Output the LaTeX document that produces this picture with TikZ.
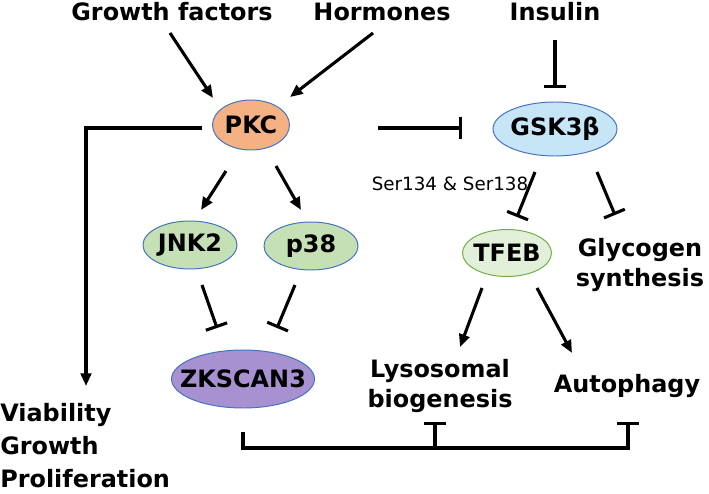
\documentclass[tikz,border=0pt]{standalone}
\usepackage{fontspec}
\setmainfont{DejaVu Sans}
\usetikzlibrary{arrows.meta,calc,shapes.geometric}

\definecolor{edgeblue}{HTML}{4472C4}
\definecolor{edgegreen}{HTML}{70AD47}
\definecolor{pkcfill}{HTML}{F4B183}
\definecolor{gskfill}{HTML}{C6E5F7}
\definecolor{mapkfill}{HTML}{C5E0B4}
\definecolor{tfebfill}{HTML}{E2F0D9}
\definecolor{zksfill}{HTML}{A791D1}

\tikzset{
    big/.style={font=\bfseries\fontsize{17}{21}\selectfont, inner sep=0pt},
    blob/.style={ellipse, draw=edgeblue, line width=0.7pt, inner sep=0pt, big},
    act/.style={line width=2.2pt, -{Triangle[length=9pt,width=7.5pt]}},
    inh/.style={line width=2.2pt, -{Bar[width=16pt]}},
}

\newcommand{\drawblob}[6]{
    % name, position, width and height in px, colours, text
    \node[blob, #5, minimum width=#3*0.025cm, minimum height=#4*0.025cm] (#1) at (#2) {\makebox[0pt]{#6}};
}

\begin{document}
\begin{tikzpicture}[x=0.025cm, y=-0.025cm]
    \useasboundingbox (0,0) rectangle (709,493);

    % Inputs
    \node[big] (gf) at (172,12) {Growth factors};
    \node[big] (hor) at (382,12) {Hormones};
    \node[big] (ins) at (555,12) {Insulin};

    % Kinases and factors
    \drawblob{pkc}{251,125}{77}{50}{fill=pkcfill}{PKC}
    \drawblob{gsk}{555,129}{124}{54}{fill=gskfill}{GSK3β}
    \drawblob{jnk}{190,245}{94}{48}{fill=mapkfill}{JNK2}
    \drawblob{p38}{311,246}{94}{48}{fill=mapkfill}{p38}
    \drawblob{tfeb}{507,253}{89}{47}{fill=tfebfill, draw=edgegreen}{TFEB}
    \drawblob{zks}{243,379}{143}{58}{fill=zksfill}{ZKSCAN3}

    % Outputs
    \node[big, align=left, anchor=west, font=\bfseries\fontsize{17}{23.5}\selectfont] (via) at (0,446) {Viability\\Growth\\Proliferation};
    \node[big, align=center] (gly) at (640,265) {Glycogen\\synthesis};
    \node[big, align=center] (lys) at (440,386) {Lysosomal\\biogenesis};
    \node[big] (aut) at (627,386) {Autophagy};
    \node[font=\fontsize{13}{15}\selectfont, inner sep=0pt] (ser) at (450,184) {Ser134 \& Ser138};

    % Edges
    \draw[act] ($(gf)+(-2,21)$) -- ($(pkc)+(-38,-27)$);
    \draw[act] ($(hor)+(-9,21)$) -- ($(pkc)+(39,-28)$);
    \draw[act] ($(pkc)+(-49,3)$) -| ($(via.west)+(86,-60)$);
    \draw[inh] ($(pkc)+(127,3)$) -- ($(gsk)+(-93,-1)$);
    \draw[inh] ($(ins)+(0,28)$) -- ($(gsk)+(0,-41)$);
    \draw[act] ($(pkc)+(-25,46)$) -- ($(jnk)+(11,-35)$);
    \draw[act] ($(pkc)+(25,41)$) -- ($(p38)+(-10,-36)$);
    \draw[inh] ($(jnk)+(12,40)$) -- ($(zks)+(-26,-51)$);
    \draw[inh] ($(p38)+(-16,39)$) -- ($(zks)+(34,-51)$);
    \draw[inh] ($(gsk)+(-20,43)$) -- ($(tfeb)+(10,-36)$);
    \draw[inh] ($(gsk)+(42,43)$) -- ($(gly)+(-25,-50)$);
    \draw[act] ($(tfeb)+(-25,35)$) -- ($(lys)+(20,-39)$);
    \draw[act] ($(tfeb)+(30,35)$) -- ($(aut)+(-55,-33)$);

    % ZKSCAN3 bracket
    \draw[inh] ($(zks)+(0,53)$) -- ($(zks)+(0,69)$) -| ($(aut)+(1,36)$);
    \draw[inh] ($(lys)+(-5,62)$) -- ($(lys)+(-5,36)$);
\end{tikzpicture}
\end{document}
